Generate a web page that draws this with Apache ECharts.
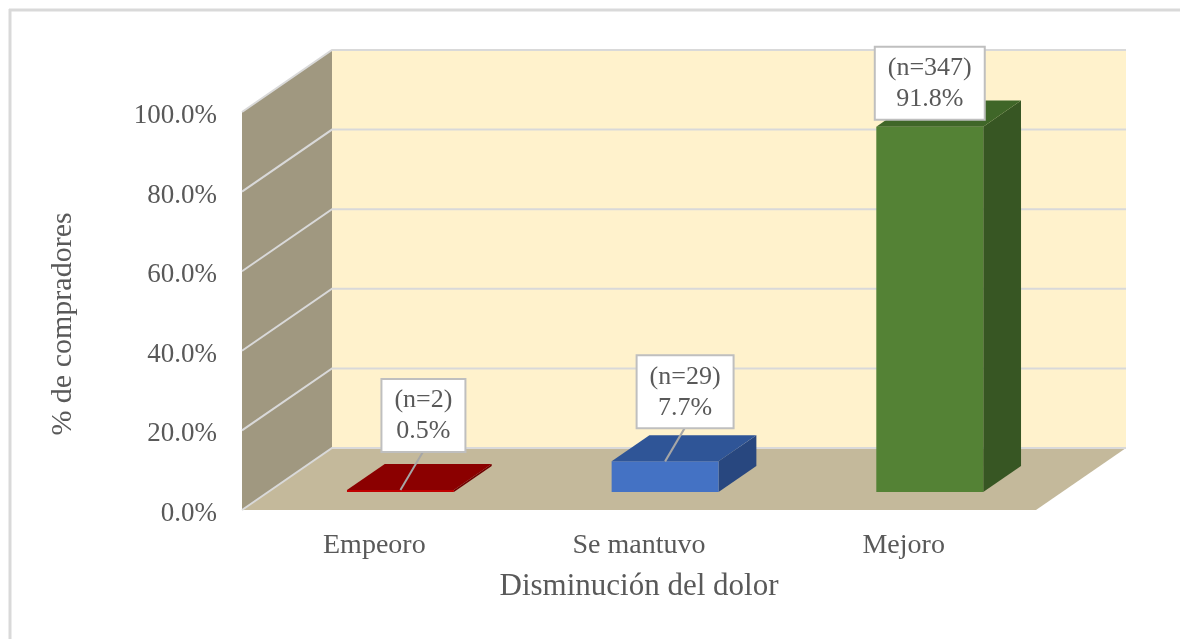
<!DOCTYPE html>
<html lang="es">
<head>
<meta charset="UTF-8">
<title>Disminución del dolor</title>
<script src="https://cdn.jsdelivr.net/npm/echarts@6/dist/echarts.min.js"></script>
<style>
    html, body { margin: 0; padding: 0; background: #fff; }
    #chart { width: 1180px; height: 639px; }
</style>
</head>
<body>
<div id="chart"></div>
<script type="text/javascript">
    // datos
    var categories = ['Empeoro', 'Se mantuvo', 'Mejoro'];
    var percentages = [0.5, 7.7, 91.8];
    var counts = [2, 29, 347];
    var yTicks = [0, 20, 40, 60, 80, 100];

    var FONT = '"Liberation Serif", "Times New Roman", serif';
    var TXT = '#595959';
    var DEPTH = [90, -62];           // profundidad del grafico 3D (px)
    var BAR_Z = [0.29, 0.71];        // posicion de las barras dentro de la profundidad
    var barColors = [
        {front: '#c00000', top: '#8b0000', side: '#6e0000'},
        {front: '#4472c4', top: '#2f5597', side: '#28477f'},
        {front: '#548235', top: '#3f6628', side: '#375623'}
    ];
    // desplazamiento de la etiqueta (centro inferior de la caja) respecto a la barra
    var labelShift = [[23, -39], [20, -34], [0, -8]];

    var myChart = echarts.init(document.getElementById('chart'));

    function renderWalls(params, api) {
        var cs = params.coordSys;
        var x = cs.x, y = cs.y, w = cs.width, h = cs.height;
        var dx = DEPTH[0], dy = DEPTH[1];
        var children = [
            {type: 'rect', shape: {x: x + dx, y: y + dy, width: w, height: h}, style: {fill: '#fff2cc'}},
            {type: 'polygon', shape: {points: [[x, y], [x + dx, y + dy], [x + dx, y + h + dy], [x, y + h]]},
                style: {fill: '#a09880'}},
            {type: 'polygon', shape: {points: [[x, y + h], [x + w, y + h], [x + w + dx, y + h + dy], [x + dx, y + h + dy]]},
                style: {fill: '#c4b99b'}}
        ];
        for (var i = 0; i < yTicks.length; i++) {
            var yy = api.coord([0, yTicks[i]])[1];
            children.push({
                type: 'polyline',
                shape: {points: [[x, yy], [x + dx, yy + dy], [x + w + dx, yy + dy]]},
                style: {stroke: '#d9d9d9', lineWidth: 2, fill: null}
            });
        }
        return {type: 'group', children: children};
    }

    function renderBar(params, api) {
        var idx = api.value(0);
        var val = api.value(1);
        var base = api.coord([idx, 0]);
        var topPt = api.coord([idx, val]);
        var band = api.size([1, 0])[0];
        var bw = band * 0.404;
        var fx = DEPTH[0] * BAR_Z[0], fy = DEPTH[1] * BAR_Z[0];
        var ddx = DEPTH[0] * (BAR_Z[1] - BAR_Z[0]), ddy = DEPTH[1] * (BAR_Z[1] - BAR_Z[0]);
        var l = base[0] - bw / 2 + fx, r = l + bw;
        var b = base[1] + fy, t = topPt[1] + fy;
        var c = barColors[idx];
        var children = [
            {type: 'polygon', shape: {points: [[r, t], [r, b], [r + ddx, b + ddy], [r + ddx, t + ddy]]},
                style: {fill: c.side}},
            {type: 'rect', shape: {x: l, y: t, width: bw, height: Math.max(b - t, 1)}, style: {fill: c.front}},
            {type: 'polygon', shape: {points: [[l, t], [r, t], [r + ddx, t + ddy], [l + ddx, t + ddy]]},
                style: {fill: c.top}}
        ];
        // etiqueta con linea guia
        var cx = (l + r) / 2;
        var lx = cx + labelShift[idx][0], ly = t + labelShift[idx][1];
        if (t - ly > 15) {
            children.push({
                type: 'line', shape: {x1: lx, y1: ly, x2: cx, y2: t},
                style: {stroke: '#a6a6a6', lineWidth: 2}, z2: 5
            });
        }
        children.push({
            type: 'text', x: lx, y: ly, z2: 10,
            style: {
                text: '(n=' + counts[idx] + ')\n' + val.toFixed(1) + '%',
                font: '26px ' + FONT, fill: TXT, align: 'center', verticalAlign: 'bottom',
                lineHeight: 31, backgroundColor: '#ffffff', borderColor: '#bfbfbf', borderWidth: 2,
                padding: [5, 12, 4, 12]
            }
        });
        return {type: 'group', children: children};
    }

    var barData = [];
    for (var i = 0; i < categories.length; i++) {
        barData.push([i, percentages[i]]);
    }

    var option = {
        backgroundColor: '#ffffff',
        animation: false,
        grid: {left: 242, right: 144, top: 112, bottom: 129},
        graphic: [
            {type: 'line', shape: {x1: 9, y1: 10, x2: 1180, y2: 10}, style: {stroke: '#d9d9d9', lineWidth: 3}},
            {type: 'line', shape: {x1: 10, y1: 9, x2: 10, y2: 639}, style: {stroke: '#d9d9d9', lineWidth: 3}}
        ],
        xAxis: {
            type: 'category',
            data: categories,
            axisLine: {show: false},
            axisTick: {show: false},
            axisLabel: {margin: 22, fontFamily: FONT, fontSize: 28, color: TXT},
            name: 'Disminución del dolor',
            nameLocation: 'middle',
            nameGap: 61,
            nameTextStyle: {fontFamily: FONT, fontSize: 31, color: TXT}
        },
        yAxis: {
            type: 'value',
            min: 0,
            max: 100,
            interval: 20,
            axisLine: {show: false},
            axisTick: {show: false},
            splitLine: {show: false},
            axisLabel: {
                margin: 25, fontFamily: FONT, fontSize: 27, color: TXT,
                verticalAlign: 'top', lineHeight: 8,
                formatter: function (v) { return v.toFixed(1) + '%'; }
            },
            name: '% de compradores',
            nameLocation: 'middle',
            nameGap: 164,
            nameTextStyle: {fontFamily: FONT, fontSize: 30, color: TXT, padding: [0, 26, 0, 0]}
        },
        series: [
            {type: 'custom', silent: true, z: 1, renderItem: renderWalls, data: [[0, 0]]},
            {type: 'custom', silent: true, z: 2, renderItem: renderBar, data: barData}
        ]
    };
    myChart.setOption(option);
</script>
</body>
</html>
